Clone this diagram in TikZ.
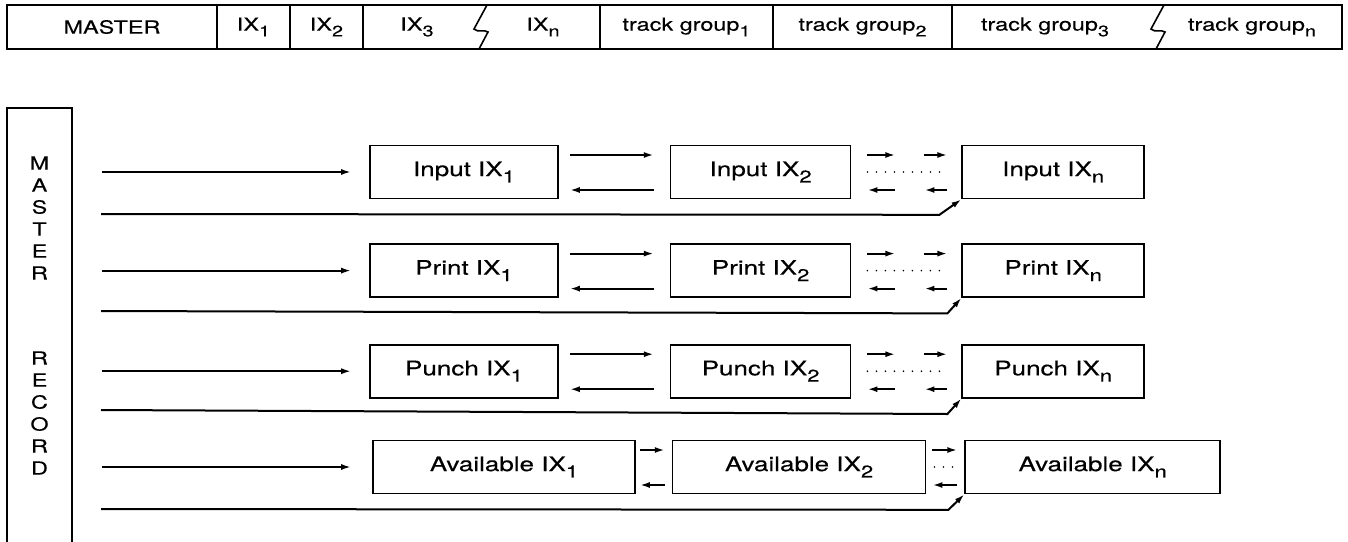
\documentclass[tikz,border=0pt]{standalone}
\usepackage{fontspec}
\setmainfont{TeX Gyre Heros}[FakeStretch=1.3, FakeBold=0.3]
\usepackage{tikz}
\usetikzlibrary{positioning}
\usetikzlibrary{arrows.meta}
\newcommand{\subs}[1]{\raisebox{-0.32em}{\scalebox{0.85}{#1}}}
\newcommand{\linkpair}[4]{%
\draw[linkarrow, shorten <=#3, shorten >=#4] ([yshift=17pt]#1.east) -- ([yshift=17pt]#2.west);
\draw[linkarrow, shorten <=#4, shorten >=#3] ([yshift=-18pt]#2.west) -- ([yshift=-18pt]#1.east);%
}

\begin{document}
\begin{tikzpicture}[x=1pt, y=-1pt,
cellnode/.style={rectangle, draw, line width=1.6pt, inner sep=0pt, minimum height=44pt, font=\fontsize{18}{21}\selectfont},
labelnode/.style={inner sep=0pt, font=\fontsize{18}{21}\selectfont},
indexnode/.style={rectangle, draw, line width=1.6pt, inner sep=0pt, minimum height=53pt, font=\fontsize{20}{24}\selectfont},
columnnode/.style={inner sep=0pt, align=center, font=\fontsize{18}{22}\selectfont},
linkarrow/.style={line width=2pt, -{Latex[length=10pt,width=6pt]}},
dotline/.style={line width=1.8pt, line cap=round, dash pattern=on 0pt off 9pt},
zig/.pic={\draw[line width=1.6pt] (4,-22) -- (-9,2) .. controls (-5,6) and (1,2) .. (5,5) -- (-4,22);},
]
\useasboundingbox (0,0) rectangle (1348,541);

%Record layout
\node[cellnode, minimum width=210pt]	(mastercell)	at (112,27)		{MASTER};
\node[cellnode, minimum width=73pt]	(ixonecell)		at (253.5,27)	{IX\subs{1}};
\node[cellnode, minimum width=73pt]	(ixtwocell)		at (326.5,27)	{IX\subs{2}};
\node[cellnode, minimum width=237pt]	(ixncell)		at (481.5,27)	{};
\node[cellnode, minimum width=173pt]	(tgonecell)		at (686.5,27)	{track group\subs{1}};
\node[cellnode, minimum width=179pt]	(tgtwocell)		at (862.5,27)	{track group\subs{2}};
\node[cellnode, minimum width=390pt]	(tgncell)		at (1147,27)	{};
\node[labelnode]	(ixthree)	at (417,27)		{IX\subs{3}};
\node[labelnode]	(ixn)		at (543,27)		{IX\subs{n}};
\node[labelnode]	(tgthree)	at (1045,27)	{track group\subs{3}};
\node[labelnode]	(tgn)		at (1252,27)	{track group\subs{n}};
\pic at (483,27) {zig};
\pic at (1160,27) {zig};

%Master record column
\node[rectangle, draw, line width=1.6pt, minimum width=65pt, minimum height=452pt, inner sep=0pt]	(mrec)	at (39.5,334)	{};
\node[columnnode]	(mastertxt)	at (39.5,218)	{M\\A\\S\\T\\E\\R};
\node[columnnode]	(recordtxt)	at (39.5,413)	{R\\E\\C\\O\\R\\D};

%Nodes
\node[indexnode, minimum width=188pt]	(in1)	at (464,172)				{Input IX\subs{1}};
\node[indexnode, minimum width=180pt]	(in2)	[right=111pt of in1]		{Input IX\subs{2}};
\node[indexnode, minimum width=182pt]	(inn)	[right=110pt of in2]		{Input IX\subs{n}};
\node[indexnode, minimum width=188pt]	(pr1)	[below=44pt of in1]		{Print IX\subs{1}};
\node[indexnode, minimum width=180pt]	(pr2)	[right=111pt of pr1]		{Print IX\subs{2}};
\node[indexnode, minimum width=182pt]	(prn)	[right=110pt of pr2]		{Print IX\subs{n}};
\node[indexnode, minimum width=188pt]	(pu1)	[below=46pt of pr1]		{Punch IX\subs{1}};
\node[indexnode, minimum width=180pt]	(pu2)	[right=111pt of pu1]		{Punch IX\subs{2}};
\node[indexnode, minimum width=182pt]	(pun)	[right=110pt of pu2]		{Punch IX\subs{n}};
\node[indexnode, minimum width=262pt]	(av1)	at (504,467)				{Available IX\subs{1}};
\node[indexnode, minimum width=253pt]	(av2)	[right=36pt of av1]		{Available IX\subs{2}};
\node[indexnode, minimum width=255pt]	(avn)	[right=38pt of av2]		{Available IX\subs{n}};

\coordinate (inret) at (101,214);
\coordinate (prret) at (101,311);
\coordinate (puret) at (101,410);
\coordinate (avret) at (101,509);

%Lines
\draw[linkarrow, shorten <=29pt, shorten >=18pt] (mrec.east |- in1.west) -- (in1.west);
\draw[linkarrow, shorten <=29pt, shorten >=18pt] (mrec.east |- pr1.west) -- (pr1.west);
\draw[linkarrow, shorten <=29pt, shorten >=18pt] (mrec.east |- pu1.west) -- (pu1.west);
\draw[linkarrow, shorten <=29pt, shorten >=21pt] (mrec.east |- av1.west) -- (av1.west);

\draw[linkarrow] (inret) -- ([xshift=-22pt,yshift=-15.5pt]inn.south west) -- (inn.south west);
\draw[linkarrow] (prret) -- ([xshift=-14pt,yshift=-15.5pt]prn.south west) -- (prn.south west);
\draw[linkarrow] (puret) -- ([xshift=-14pt,yshift=-15.5pt]pun.south west) -- (pun.south west);
\draw[linkarrow] (avret) -- ([xshift=-16pt,yshift=-15.5pt]avn.south west) -- (avn.south west);

\linkpair{in1}{in2}{11pt}{16pt}
\linkpair{pr1}{pr2}{11pt}{16pt}
\linkpair{pu1}{pu2}{11pt}{16pt}
\linkpair{av1}{av2}{4pt}{7pt}

\linkpair{in2}{inn}{16pt}{66pt}
\linkpair{in2}{inn}{73pt}{14pt}
\draw[dotline, shorten <=16pt, shorten >=14pt] (in2) -- (inn);
\linkpair{pr2}{prn}{16pt}{66pt}
\linkpair{pr2}{prn}{73pt}{14pt}
\draw[dotline, shorten <=16pt, shorten >=14pt] (pr2) -- (prn);
\linkpair{pu2}{pun}{16pt}{66pt}
\linkpair{pu2}{pun}{73pt}{14pt}
\draw[dotline, shorten <=16pt, shorten >=14pt] (pu2) -- (pun);
\linkpair{av2}{avn}{6pt}{7pt}
\draw[dotline, shorten <=8pt, shorten >=7pt] (av2) -- (avn);
\end{tikzpicture}
\end{document}
